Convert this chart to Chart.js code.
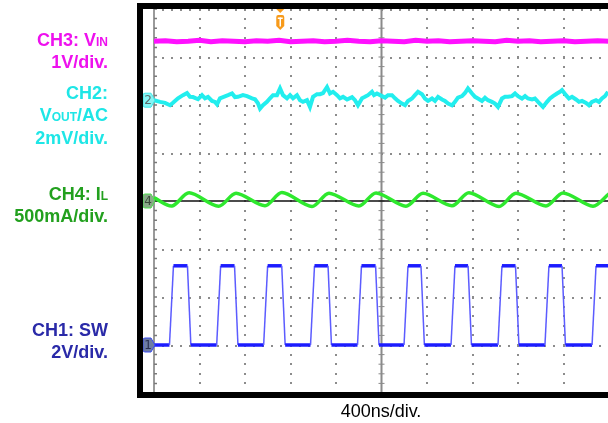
<!DOCTYPE html>
<html>
<head>
<meta charset="utf-8">
<script src="https://cdn.jsdelivr.net/npm/chart.js@4.4.1/dist/chart.umd.min.js"></script>
<style>
  html, body { margin: 0; padding: 0; background: #fff; overflow: hidden; width: 608px; height: 423px; }
  #wrap { position: absolute; left: 0; top: 0; width: 640px; height: 423px; }
  .lbl { position: absolute; left: 0; width: 108px; text-align: right; white-space: nowrap;
         font: bold 18px "Liberation Sans", Arial, sans-serif; line-height: 18px; }
  .lbl small { font-size: 12px; }
  .ch3 { color: #ee11ee; }
  .ch2 { color: #1ee6e6; }
  .ch4 { color: #22a01e; }
  .ch1 { color: #2a2aa8; }
  #timebase { position: absolute; left: 381px; top: 402px; transform: translateX(-50%);
              font: 18px "Liberation Sans", Arial, sans-serif; line-height: 18px; color: #000; white-space: nowrap; }
</style>
</head>
<body>
<div id="wrap"><canvas id="scope" width="640" height="423"></canvas></div>

<div class="lbl ch3" style="top:31px">CH3: V<small>IN</small></div>
<div class="lbl ch3" style="top:53px">1V/div.</div>
<div class="lbl ch2" style="top:84px">CH2:</div>
<div class="lbl ch2" style="top:106px">V<small>OUT</small>/AC</div>
<div class="lbl ch2" style="top:129px">2mV/div.</div>
<div class="lbl ch4" style="top:185px">CH4: I<small>L</small></div>
<div class="lbl ch4" style="top:207px">500mA/div.</div>
<div class="lbl ch1" style="top:321px">CH1: SW</div>
<div class="lbl ch1" style="top:343px">2V/div.</div>
<div id="timebase">400ns/div.</div>

<script>
// screen: 10 x 8 divisions, 400 ns/div
const timeSpan = 4000;
const divsY = 8;
const triggerTime = 1110;

// channel settings: units per division and ground position (divisions from bottom)
const vinScale = 1, vinPos = 4;      // V
const voutScale = 2, voutPos = 6.1;  // mV (AC)
const ilScale = 500, ilPos = 4;      // mA
const swScale = 2, swPos = 1;        // V

// CH3: V_IN (V)
const vinT = [0,100,200,300,400,500,600,700,800,900,1000,1100,1200,1300,1400,1500,1600,1700,1800,1900,
              2000,2100,2200,2300,2400,2500,2600,2700,2800,2900,3000,3100,3200,3300,3400,3500,3600,3700,3800,3900,4000];
const vinV = [3.33,3.34,3.32,3.33,3.35,3.32,3.34,3.33,3.32,3.34,3.33,3.35,3.32,3.33,3.34,3.32,3.33,3.35,3.33,3.32,
              3.34,3.33,3.32,3.35,3.33,3.34,3.32,3.33,3.34,3.33,3.32,3.35,3.33,3.34,3.32,3.33,3.34,3.32,3.33,3.34,3.33];

// CH2: V_OUT ripple (mV)
const voutT = [0,53,97,141,167,211,255,290,316,343,387,422,448,475,510,536,554,580,607,651,
               686,712,738,782,818,862,888,914,932,958,993,1020,1046,1081,1108,1134,1169,1196,1222,1257,
               1284,1310,1345,1371,1398,1433,1459,1486,1521,1547,1574,1609,1635,1662,1697,1741,1767,1793,1829,1855,
               1881,1916,1934,1960,2004,2031,2057,2092,2119,2145,2180,2207,2233,2268,2294,2321,2356,2382,2409,2444,
               2470,2497,2532,2558,2585,2620,2646,2672,2708,2734,2760,2796,2822,2848,2883,2910,2936,2971,2998,3024,
               3059,3086,3112,3147,3174,3200,3235,3262,3288,3323,3349,3376,3420,3455,3481,3508,3543,3569,3587,3622,
               3648,3675,3710,3736,3763,3798,3824,3850,3886,3912,3938,3965,3991];
const voutMv = [0,-0.07,-0.11,-0.21,-0.11,0.08,0.21,0.30,0.14,0.13,0.04,0.21,0.08,0.14,-0.03,-0.07,-0.17,0.08,0.13,0.21,
                0.28,0.13,0.14,0.21,0.17,0.08,0.04,-0.13,-0.35,-0.21,-0.07,0.08,0.21,0.21,0.49,0.21,0.08,0.21,0.08,0.21,
                0,-0.07,0,-0.28,0.14,0.25,0.25,0.30,0.55,0.28,0.35,0.21,0.08,0.14,0.03,0.13,0,-0.21,0.08,0.14,
                0.21,0.35,0.21,0.28,0.17,0.11,0.21,0.21,0.08,-0.03,-0.14,-0.21,-0.03,0.07,0.21,0.35,0.25,0.07,-0.03,0.07,
                -0.03,0.14,0.03,-0.03,-0.14,-0.21,-0.07,0.11,0.17,0.30,0.49,0.28,0.14,0.07,-0.03,0.10,0,-0.07,-0.14,-0.28,
                0.07,0.14,0.14,0.17,0.28,0.17,0.07,0.17,0.07,0.03,0.07,-0.07,-0.28,-0.07,0.07,0.17,0.28,0.35,0.42,0.21,
                0.07,0.14,0.03,-0.07,-0.03,-0.11,-0.21,-0.07,0,-0.07,0.07,0.17,0.35];

// CH4: I_L (mA), valleys and peaks
const ilT = [0,158,308,567,721,976,1125,1389,1538,1802,1952,2215,2365,2620,2769,3033,3182,3446,3596,3859,4000];
const ilMa = [35,-52,85,-55,80,-50,88,-58,82,-52,84,-54,80,-50,86,-56,82,-52,84,-54,75];

// CH1: SW node (V), edge times in ns
const swRise = [136,551,964,1376,1789,2198,2611,3024,3437,3851];
const swFall = [294,708,1123,1530,1948,2347,2761,3178,3587];
const swHigh = 3.3, swLow = 0;
const swRiseTime = 35, swFallTime = 30;

const toDiv = (v, scale, pos) => pos + v / scale;

const vinData = vinT.map((t, i) => ({ x: t, y: toDiv(vinV[i], vinScale, vinPos) }));
const voutData = voutT.map((t, i) => ({ x: t, y: toDiv(voutMv[i], voutScale, voutPos) }));
const ilData = ilT.map((t, i) => ({ x: t, y: toDiv(ilMa[i], ilScale, ilPos) }));

const swData = [{ x: 0, y: toDiv(swLow, swScale, swPos) }];
swRise.forEach((r, i) => {
  swData.push({ x: r, y: toDiv(swLow, swScale, swPos) });
  swData.push({ x: r + swRiseTime, y: toDiv(swHigh, swScale, swPos) });
  if (i < swFall.length) {
    swData.push({ x: swFall[i], y: toDiv(swHigh, swScale, swPos) });
    swData.push({ x: swFall[i] + swFallTime, y: toDiv(swLow, swScale, swPos) });
  } else {
    swData.push({ x: timeSpan + 200, y: toDiv(swHigh, swScale, swPos) });
  }
});

// dotted graticule, centre cross and left edge
const graticule = {
  id: 'graticule',
  beforeDatasetsDraw(chart) {
    const { ctx, chartArea: a, scales: { x, y } } = chart;
    const divT = timeSpan / 10;
    ctx.save();
    ctx.fillStyle = '#8c8c8c';
    for (let d = 1; d < 10; d++) {
      if (d === 5) continue;
      const px = Math.round(x.getPixelForValue(d * divT));
      for (let k = 0; k <= divsY * 5; k++) {
        const py = Math.round(y.getPixelForValue(k / 5));
        ctx.fillRect(px - 1, py - 1, 2, 2);
      }
    }
    for (let d = 0; d <= divsY; d++) {
      if (d === 4) continue;
      const py = Math.round(y.getPixelForValue(d));
      for (let k = 1; k <= 50; k++) {
        const px = Math.round(x.getPixelForValue(k * divT / 5));
        ctx.fillRect(px - 1, py, 2, 2);
      }
    }
    // left edge with minor ticks
    const lx = x.getPixelForValue(0);
    ctx.strokeStyle = '#7a7a7a';
    ctx.lineWidth = 1.5;
    ctx.beginPath();
    ctx.moveTo(lx, a.top); ctx.lineTo(lx, a.bottom);
    for (let k = 0; k <= divsY * 5; k++) {
      const py = y.getPixelForValue(k / 5);
      ctx.moveTo(lx, py); ctx.lineTo(lx + 3, py);
    }
    ctx.stroke();
    // vertical centre
    const cx = x.getPixelForValue(timeSpan / 2);
    ctx.strokeStyle = '#8a8a8a';
    ctx.lineWidth = 2;
    ctx.beginPath();
    ctx.moveTo(cx, a.top); ctx.lineTo(cx, a.bottom);
    ctx.stroke();
    ctx.lineWidth = 1;
    ctx.beginPath();
    for (let k = 0; k <= divsY * 5; k++) {
      const py = y.getPixelForValue(k / 5);
      ctx.moveTo(cx - 3, py); ctx.lineTo(cx + 3, py);
    }
    ctx.stroke();
    // horizontal centre
    const cy = y.getPixelForValue(divsY / 2);
    ctx.strokeStyle = '#111';
    ctx.lineWidth = 1.5;
    ctx.beginPath();
    ctx.moveTo(lx, cy); ctx.lineTo(a.right, cy);
    ctx.stroke();
    ctx.restore();
  }
};

function tag(ctx, px, py, label, fill, stroke, textColor) {
  const x0 = px - 11, h = 7;
  ctx.beginPath();
  ctx.moveTo(x0 + 2, py - h);
  ctx.lineTo(px - 3, py - h);
  ctx.lineTo(px + 1, py);
  ctx.lineTo(px - 3, py + h);
  ctx.lineTo(x0 + 2, py + h);
  ctx.quadraticCurveTo(x0, py + h, x0, py + h - 2);
  ctx.lineTo(x0, py - h + 2);
  ctx.quadraticCurveTo(x0, py - h, x0 + 2, py - h);
  ctx.closePath();
  ctx.fillStyle = fill;
  ctx.fill();
  ctx.strokeStyle = stroke;
  ctx.lineWidth = 1;
  ctx.stroke();
  ctx.fillStyle = textColor;
  ctx.font = '12px "DejaVu Sans", sans-serif';
  ctx.textAlign = 'center';
  ctx.textBaseline = 'middle';
  ctx.fillText(label, x0 + 5, py + 1);
}

// channel markers, trigger marker and the black bezel
const overlay = {
  id: 'overlay',
  afterDatasetsDraw(chart) {
    const { ctx, chartArea: a, scales: { x, y } } = chart;
    ctx.save();
    const mx = x.getPixelForValue(0);
    tag(ctx, mx, y.getPixelForValue(voutPos), '2', '#86f4f4', '#3ee8e8', '#5a6a6a');
    tag(ctx, mx, y.getPixelForValue(ilPos), '4', '#88aa88', '#4ee04e', '#3a4a3a');
    tag(ctx, mx, y.getPixelForValue(swPos), '1', '#6d7ca4', '#3a4cf0', '#2a3050');

    // trigger position
    const tx = x.getPixelForValue(triggerTime);
    ctx.fillStyle = '#f79a1a';
    ctx.beginPath();
    ctx.moveTo(tx - 4, a.top); ctx.lineTo(tx + 4, a.top); ctx.lineTo(tx, a.top + 4);
    ctx.closePath(); ctx.fill();
    const ty = a.top + 6;
    ctx.beginPath();
    ctx.moveTo(tx - 4, ty + 2);
    ctx.quadraticCurveTo(tx - 4, ty, tx - 2, ty);
    ctx.lineTo(tx + 2, ty);
    ctx.quadraticCurveTo(tx + 4, ty, tx + 4, ty + 2);
    ctx.lineTo(tx + 4, ty + 11);
    ctx.lineTo(tx, ty + 15);
    ctx.lineTo(tx - 4, ty + 11);
    ctx.closePath(); ctx.fill();
    ctx.fillStyle = '#fff';
    ctx.fillRect(tx - 2.5, ty + 2.5, 5, 1.5);
    ctx.fillRect(tx - 0.75, ty + 2.5, 1.5, 9);

    // bezel
    ctx.fillStyle = '#000';
    ctx.fillRect(137, 3, chart.width - 137, 6);
    ctx.fillRect(137, 3, 6, 395);
    ctx.fillRect(137, 392, chart.width - 137, 6);
    ctx.restore();
  }
};

new Chart(document.getElementById('scope').getContext('2d'), {
  type: 'scatter',
  data: {
    datasets: [
      { label: 'CH3', data: vinData, showLine: true, borderColor: '#ff10ff', borderWidth: 5, pointRadius: 0, tension: 0 },
      { label: 'CH2', data: voutData, showLine: true, borderColor: '#22eeee', borderWidth: 4, pointRadius: 0, tension: 0 },
      { label: 'CH4', data: ilData, showLine: true, borderColor: '#2ee82e', borderWidth: 3.5, pointRadius: 0, tension: 0.3 },
      {
        label: 'CH1', data: swData, showLine: true, borderColor: '#1c1cff', borderWidth: 3, pointRadius: 0, tension: 0,
        segment: {
          borderWidth: c => (c.p0.parsed.y === c.p1.parsed.y ? 3.5 : 1.5),
          borderColor: c => (c.p0.parsed.y === c.p1.parsed.y ? '#1c1cff' : '#5c5cff')
        }
      }
    ]
  },
  options: {
    responsive: false,
    animation: false,
    devicePixelRatio: 1,
    layout: { padding: { left: 154, top: 9, right: 31, bottom: 30 } },
    scales: {
      x: { type: 'linear', min: 0, max: timeSpan, display: false },
      y: { type: 'linear', min: 0, max: divsY, display: false }
    },
    plugins: {
      legend: { display: false },
      tooltip: { enabled: false }
    }
  },
  plugins: [graticule, overlay]
});
</script>
</body>
</html>
